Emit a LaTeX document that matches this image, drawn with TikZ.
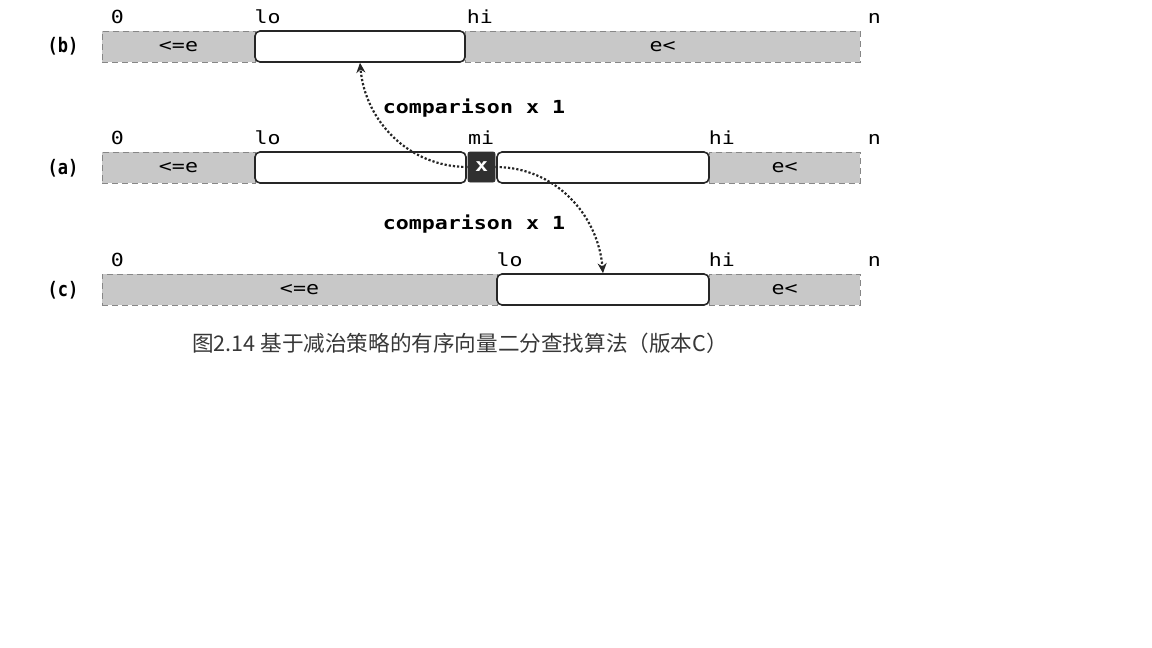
\documentclass[tikz,border=0pt]{standalone}
\usepackage{fontspec}
\setmonofont{DejaVu Sans Mono}[FakeStretch=1.2]
\newfontfamily\rowfont{DejaVu Sans Mono}[FakeStretch=0.85]
\newfontfamily\cjk{Noto Sans CJK SC}
\usetikzlibrary{fit,arrows.meta}
\definecolor{bargray}{RGB}{200,200,200}
\definecolor{edgegray}{RGB}{135,135,135}
\definecolor{pivotgray}{RGB}{48,48,48}
\definecolor{captiongray}{RGB}{55,55,55}

\begin{document}
\begin{tikzpicture}[x=0.5pt, y=-0.5pt,
	lab/.style={font=\ttfamily\fontsize{9}{11}\selectfont, inner sep=0pt},
	cmplab/.style={font=\ttfamily\bfseries\fontsize{9}{11}\selectfont, inner sep=0pt},
	rowlab/.style={font=\rowfont\bfseries\fontsize{10}{12}\selectfont, inner sep=0pt},
	graybar/.style={inner sep=0pt, fill=bargray, draw=edgegray, densely dashed, line width=0.5pt},
	openbar/.style={inner sep=0pt, fill=white, draw=black!85, line width=0.8pt, rounded corners=2.5pt},
	pivot/.style={inner sep=0pt, fill=pivotgray, draw=pivotgray, rounded corners=1pt},
	cmp/.style={black!85, densely dotted, line width=1.1pt, -{Stealth[length=5pt, width=4.5pt]}}]
	\useasboundingbox (0,0) rectangle (1152,648);

	% (b)
	\node[rowlab] (rowb) at (63,46) {(b)};
	\node[graybar, fit={(102,31) (255,62)}] (bleft) {};
	\node[graybar, fit={(465,31) (860,62)}] (bright) {};
	\node[openbar, fit={(255,31) (465,62)}] (bopen) {};
	\node[lab] (ble) at (bleft.center) {<=e};
	\node[lab] (bgt) at (bright.center) {e<};
	\node[lab, anchor=base west] (bzero) at ([xshift=4.5pt, yshift=3.5pt]bleft.north west) {0};
	\node[lab, anchor=base west] (blo) at ([yshift=3.5pt]bopen.north west) {lo};
	\node[lab, anchor=base west] (bhi) at ([xshift=1pt, yshift=3.5pt]bright.north west) {hi};
	\node[lab, anchor=base west] (bn) at ([xshift=3.5pt, yshift=3.5pt]bright.north east) {n};

	\node[cmplab] (cmpup) at (474,108) {comparison x 1};

	% (a)
	\node[rowlab] (rowa) at (63,168) {(a)};
	\node[graybar, fit={(102,152) (255,183)}] (aleft) {};
	\node[graybar, fit={(709,152) (860,183)}] (aright) {};
	\node[openbar, fit={(255,152) (466,183)}] (aopenl) {};
	\node[openbar, fit={(497,152) (709,183)}] (aopenr) {};
	\node[pivot, fit={(468,152) (495,182)}] (px) {};
	\node[lab] (ale) at (aleft.center) {<=e};
	\node[lab] (agt) at (aright.center) {e<};
	\node[cmplab, text=white] (ax) at (px.center) {x};
	\node[lab, anchor=base west] (azero) at ([xshift=4.5pt, yshift=3.5pt]aleft.north west) {0};
	\node[lab, anchor=base west] (alo) at ([yshift=3.5pt]aopenl.north west) {lo};
	\node[lab, anchor=base west] (ami) at ([yshift=3.5pt]px.north west) {mi};
	\node[lab, anchor=base west] (ahi) at ([yshift=3.5pt]aright.north west) {hi};
	\node[lab, anchor=base west] (an) at ([xshift=3.5pt, yshift=3.5pt]aright.north east) {n};

	\node[cmplab] (cmpdown) at (474,224) {comparison x 1};

	% (c)
	\node[rowlab] (rowc) at (63,290) {(c)};
	\node[graybar, fit={(102,274) (497,305)}] (cleft) {};
	\node[graybar, fit={(709,274) (860,305)}] (cright) {};
	\node[openbar, fit={(497,274) (709,305)}] (copen) {};
	\node[lab] (cle) at (cleft.center) {<=e};
	\node[lab] (cgt) at (cright.center) {e<};
	\node[lab, anchor=base west] (czero) at ([xshift=4.5pt, yshift=3.5pt]cleft.north west) {0};
	\node[lab, anchor=base west] (clo) at ([yshift=3.5pt]copen.north west) {lo};
	\node[lab, anchor=base west] (chi) at ([yshift=3.5pt]cright.north west) {hi};
	\node[lab, anchor=base west] (cn) at ([xshift=3.5pt, yshift=3.5pt]cright.north east) {n};

	% one comparison, two ways
	\draw[cmp] (px.west) to[out=180, in=-85] (bopen.south);
	\draw[cmp] (px.east) to[out=0, in=95] (copen.north);

	\node[font=\cjk\fontsize{10.8}{12}\selectfont, text=captiongray] (caption) at (460,343) {图2.14 基于减治策略的有序向量二分查找算法（版本C）};
\end{tikzpicture}
\end{document}
